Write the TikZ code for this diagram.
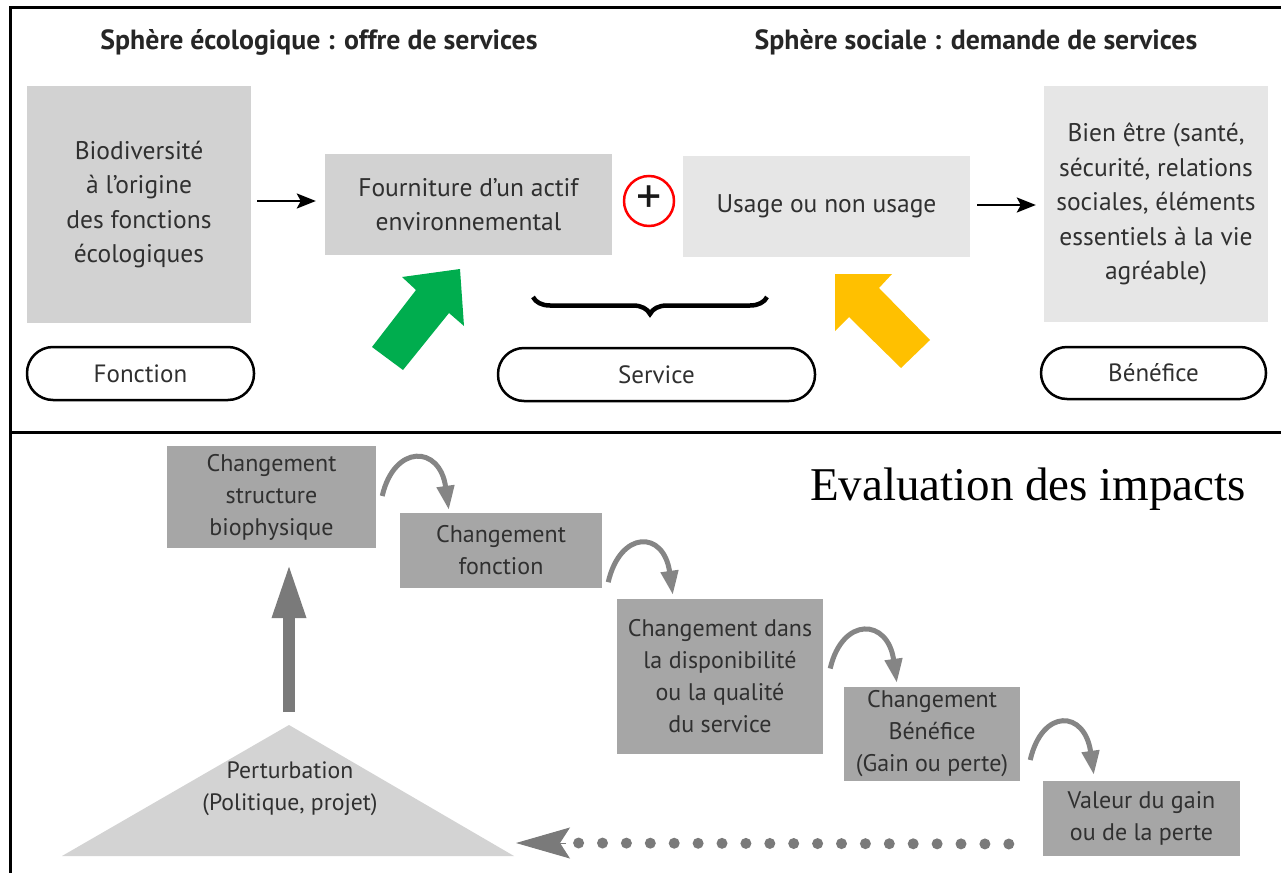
\documentclass[tikz,border=0pt]{standalone}
\usepackage{fontspec}
\setmainfont{PT Sans}
\newfontfamily\evalfont{Liberation Serif}
\usetikzlibrary{arrows.meta,decorations.pathreplacing,calc}
\definecolor{boxA}{HTML}{D2D2D2}
\definecolor{boxB}{HTML}{E6E6E6}
\definecolor{boxD}{HTML}{A6A6A6}
\definecolor{triC}{HTML}{D3D3D3}
\definecolor{curvC}{HTML}{858585}
\definecolor{vertC}{HTML}{7A7A7A}
\definecolor{txtC}{HTML}{303030}
\definecolor{greenC}{HTML}{00AD4E}
\definecolor{yellowC}{HTML}{FFC000}
\tikzset{
  topbox/.style={inner sep=0pt, align=center, text=txtC, font=\fontsize{25.5}{34.5}\selectfont},
  botbox/.style={fill=boxD, inner sep=0pt, align=center, text=txtC, font=\fontsize{24}{32}\selectfont},
  pill/.style={draw=black, line width=2.5pt, rounded corners=26pt, inner sep=0pt, text=txtC, font=\fontsize{25}{30}\selectfont},
  hdr/.style={anchor=base, text=black!85, font=\bfseries\fontsize{27.8}{30}\selectfont},
  flow/.style={line width=2.5pt, -{Stealth[length=19pt,width=15pt,inset=4pt]}},
  curv/.style={draw=curvC, line width=5pt, -{Triangle[length=24pt,width=17pt]}},
  frame/.style={line width=3pt, draw=black}
}
\begin{document}
\begin{tikzpicture}[x=1pt,y=-1pt]
\useasboundingbox (0,0) rectangle (1281,872);
% frame
\draw[frame] (1282,8) -- (10,8) -- (10,873);
\draw[frame] (10,432) -- (1282,432);

% headers
\node[hdr] (h1) at (319,50) {Sphère écologique : offre de services};
\node[hdr] (h2) at (976,50) {Sphère sociale : demande de services};

% top boxes
\node[topbox, fill=boxA, minimum width=224pt, minimum height=237pt] (bio) at (139,204.5)
  {Biodiversité\\à l’origine\\des fonctions\\écologiques};
\node[topbox, fill=boxA, minimum width=287pt, minimum height=101pt] (four) at (468.5,204.5)
  {Fourniture d’un actif\\environnemental};
\node[circle, draw=red, line width=2.5pt, minimum size=50pt, inner sep=0pt, text=black!90,
  font=\fontsize{50}{50}\selectfont] (plus) at (649,201) {\raisebox{2pt}{+}};
\node[topbox, fill=boxB, minimum width=287pt, minimum height=101pt] (usage) at (826.5,206.5)
  {Usage ou non usage};
\node[topbox, fill=boxB, minimum width=224pt, minimum height=236pt] (bien) at (1156,204)
  {Bien être (santé,\\sécurité, relations\\sociales, éléments\\essentiels à la vie\\agréable)};

\draw[flow, shorten <=6pt, shorten >=9pt] (bio.east |- 0,201) -- (four.west |- 0,201);
\draw[flow, shorten <=7pt, shorten >=8pt] (usage.east |- 0,205) -- (bien.west |- 0,205);

% green and yellow block arrows
\fill[greenC] (372,347) -- (416,290) -- (402,277) -- (460,269) -- (464,326) -- (449,313) -- (403,370) -- cycle;
\fill[yellowC] (835,274) -- (892,274) -- (879,288) -- (930,340) -- (901,368) -- (849,317) -- (835,331) -- cycle;

% brace
\draw[decorate, decoration={brace, mirror, amplitude=17pt}, line width=4.5pt]
  (533,297) -- (767,297);

% pills
\node[pill, minimum width=227pt, minimum height=53pt] (fonc) at (140.5,373.5) {Fonction};
\node[pill, minimum width=317pt, minimum height=53pt] (serv) at (656.5,374.5) {Service};
\node[pill, minimum width=225pt, minimum height=52pt] (bene) at (1153.5,373) {Bénéfice};

% ---- bottom part ----
\node[anchor=base, font=\evalfont\fontsize{47}{50}\selectfont] (eval) at (1028,500) {Evaluation des impacts};

\node[botbox, minimum width=209pt, minimum height=102pt] (b1) at (271.5,497)
  {Changement\\structure\\biophysique};
\node[botbox, minimum width=202pt, minimum height=75pt] (b2) at (501,550.5)
  {Changement\\fonction};
\node[botbox, minimum width=206pt, minimum height=155pt] (b3) at (720,676.5)
  {Changement dans\\la disponibilité\\ou la qualité\\du service};
\node[botbox, minimum width=176pt, minimum height=94pt] (b4) at (932,734)
  {Changement\\Bénéfice\\(Gain ou perte)};
\node[botbox, minimum width=197pt, minimum height=75pt] (b5) at (1141.5,818.5)
  {Valeur du gain\\ou de la perte};

% perturbation triangle
\coordinate (apex) at (289,725);
\coordinate (pertE) at (516,843);
\fill[triC] (apex) -- (514,856) -- (62,856) -- cycle;
\node[inner sep=0pt, align=center, text=txtC, font=\fontsize{23.7}{32}\selectfont] (pert) at (290,789)
  {Perturbation\\(Politique, projet)};

% vertical arrow
\draw[vertC, line width=12pt, -{Triangle[length=55pt,width=31pt]}]
  ($(apex)+(0,-13)$) -- ($(b1.south)+(17.5,15)$);

% curved arrows
\draw[curv] ($(b1.east)+(6,-1)$) .. controls +(12,-52) and +(-9,-65) .. ($(b2.north west)+(49,-3)$);
\draw[curv] ($(b2.south east)+(6,-6)$) .. controls +(12,-52) and +(-9,-65) .. ($(b3.north west)+(56,-4)$);
\draw[curv] ($(b3.east)+(7,-8)$) .. controls +(12,-52) and +(-9,-65) .. ($(b4.north west)+(53,-4)$);
\draw[curv] ($(b4.east)+(10,26)$) .. controls +(12,-52) and +(-9,-65) .. ($(b5.north west)+(51,-6)$);

% dotted return arrow
\draw[vertC, line width=11pt, line cap=round, dash pattern=on 0pt off 23.9pt]
  ($(b5.west)+(-34,25.5)$) -- ($(pertE)+(62,0)$);
\draw[vertC, line width=1pt, -{Stealth[length=54pt,width=31pt,inset=10pt]}]
  ($(pertE)+(50,0)$) -- (pertE);
\end{tikzpicture}
\end{document}
